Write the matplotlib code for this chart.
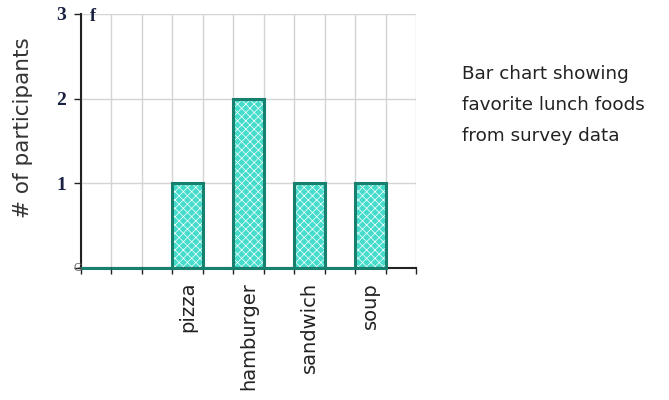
import matplotlib
matplotlib.use("Agg")
import matplotlib.pyplot as plt
import numpy as np

# Data
categories = ["", "", "", "pizza", "", "hamburger", "", "sandwich", "", "soup"]
counts = [0, 0, 0, 1, 0, 2, 0, 1, 0, 1]
n_slots = 11
y_ticks = [0, 1, 2, 3]
y_tick_labels = ["", "1", "2", "3"]
ylabel = "# of participants"
caption = "Bar chart showing\nfavorite lunch foods\nfrom survey data"

plt.rcParams['hatch.color'] = '#e6fffb'
plt.rcParams['hatch.linewidth'] = 0.5

fig = plt.figure(figsize=(6.69, 4.0), dpi=100)
ax = fig.add_axes([81/669, 1-268/400, (416-81)/669, (268-14)/400])

x = np.arange(len(counts)) + 0.5
fill_col = "#45dccb"
edge_col = "#17806f"
# hatched fill
ax.bar(x, counts, width=1.0, color=fill_col, hatch="xxxx", edgecolor="white",
       linewidth=0, zorder=2)
# outline
ax.bar(x, counts, width=1.0, fill=False, edgecolor=edge_col, linewidth=2.2,
       zorder=4, clip_on=False)

ax.set_xlim(0, n_slots)
ax.set_ylim(0, 3)

# grid
ax.set_xticks(np.arange(0, n_slots + 1))
ax.set_xticklabels([])
ax.set_xticks(x, minor=True)
ax.set_xticklabels(categories, minor=True, rotation=90, fontsize=14,
                   family="DejaVu Sans", color="#222222")
ax.tick_params(axis="x", which="minor", length=0, pad=10)
ax.tick_params(axis="x", which="major", length=4, width=1, direction="out", color="#222222")
ax.set_yticks(y_ticks)
ax.set_yticklabels(y_tick_labels, fontsize=14, family="Liberation Serif",
                   fontweight="bold", color="#1a2040")
ax.tick_params(axis="y", length=5, width=1, direction="out", color="#222222", pad=6)
ax.grid(True, which="major", color="#d4d4d4", linewidth=1.0, zorder=0)
ax.set_axisbelow(True)

for s in ["top", "right"]:
    ax.spines[s].set_visible(False)
ax.spines["left"].set_color("#222222")
ax.spines["left"].set_linewidth(1.5)
ax.spines["bottom"].set_color("#222222")
ax.spines["bottom"].set_linewidth(1.5)

# little labels near the axis corner
ax.text(0.4, 2.975, "f", fontsize=13, family="Liberation Serif", fontweight="bold",
        color="#1a2040", ha="center", va="center")
ax.text(-0.12, 0.0, "G", fontsize=8, family="Liberation Sans", color="#666666",
        ha="center", va="center")

fig.text(23/669, 1-128/400, ylabel, rotation=90, ha="center", va="center",
         fontsize=15.5, family="DejaVu Sans", color="#333333")
fig.text(462/669, 1-105/400, caption, ha="left", va="center", fontsize=13.2,
         family="DejaVu Sans", color="#222222", linespacing=1.95)

fig.savefig("out.png", dpi=100)
